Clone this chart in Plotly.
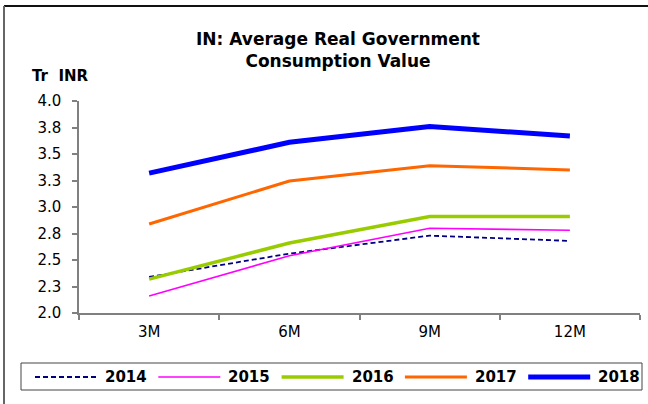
import plotly.graph_objects as go

# ---- data -------------------------------------------------------------
periods = ["3M", "6M", "9M", "12M"]
years = ["2014", "2015", "2016", "2017", "2018"]

v2014 = [2.34, 2.56, 2.73, 2.68]
v2015 = [2.16, 2.54, 2.80, 2.78]
v2016 = [2.32, 2.66, 2.91, 2.91]
v2017 = [2.84, 3.245, 3.39, 3.35]
v2018 = [3.32, 3.61, 3.76, 3.67]

y_tick_values = [2.0, 2.25, 2.5, 2.75, 3.0, 3.25, 3.5, 3.75, 4.0]
y_tick_labels = ["2.0", "2.3", "2.5", "2.8", "3.0", "3.3", "3.5", "3.8", "4.0"]

series = [v2014, v2015, v2016, v2017, v2018]

# ---- styling ----------------------------------------------------------
colors = ["#000080", "#FF00FF", "#99CC00", "#FF6600", "#0000FF"]
widths = [1.8, 1.6, 3.5, 3.0, 5.0]
dashes = ["5px,3px", "solid", "solid", "solid", "solid"]

FONT = "DejaVu Sans"
W, H = 648, 404
L, R, T, B = 79, 8, 101, 91
plot_w = W - L - R
plot_h = H - T - B


def px_x(px):
    """Convert a page pixel x position into paper coordinates."""
    return (px - L) / plot_w


def px_y(py):
    """Convert a page pixel y position into paper coordinates."""
    return (H - B - py) / plot_h


fig = go.Figure()
for name, vals, c, w, d in zip(years, series, colors, widths, dashes):
    fig.add_trace(go.Scatter(
        x=periods, y=vals, name=name, mode="lines",
        line=dict(color=c, width=w, dash=d),
        showlegend=False,
    ))

shapes = []
annotations = []

# outer frame (top and left edges)
shapes.append(dict(type="line", xref="paper", yref="paper",
                   x0=px_x(4), x1=px_x(648), y0=px_y(6), y1=px_y(6),
                   line=dict(color="#111111", width=2)))
shapes.append(dict(type="line", xref="paper", yref="paper",
                   x0=px_x(4), x1=px_x(4), y0=px_y(6), y1=px_y(404),
                   line=dict(color="#666666", width=2)))

# legend box
shapes.append(dict(type="rect", xref="paper", yref="paper",
                   x0=px_x(21), x1=px_x(642), y0=px_y(363), y1=px_y(390),
                   line=dict(color="#444444", width=1), fillcolor="white"))

leg_y = 377
step = 123.3
for i, (name, c, w, d) in enumerate(zip(years, colors, widths, dashes)):
    x0 = 35 + step * i
    shapes.append(dict(type="line", xref="paper", yref="paper",
                       x0=px_x(x0), x1=px_x(x0 + 62), y0=px_y(leg_y), y1=px_y(leg_y),
                       line=dict(color=c, width=w, dash=d)))
    annotations.append(dict(xref="paper", yref="paper", x=px_x(x0 + 68), y=px_y(leg_y),
                            xanchor="left", yanchor="middle", showarrow=False,
                            text=name,
                            font=dict(family=FONT, size=15, color="black", weight="bold")))

# unit label
annotations.append(dict(xref="paper", yref="paper", x=px_x(30), y=px_y(76),
                        xanchor="left", yanchor="middle", showarrow=False,
                        text="Tr\u00a0 INR",
                        font=dict(family=FONT, size=15, color="black", weight="bold")))

fig.update_layout(
    width=W, height=H,
    margin=dict(l=L, r=R, t=T, b=B),
    paper_bgcolor="white", plot_bgcolor="white",
    title=dict(text="IN: Average Real Government<br>Consumption Value",
               x=338 / W, xanchor="center", xref="container",
               y=1 - 45 / H, yanchor="top", yref="container",
               font=dict(family=FONT, size=17, color="black", weight="bold")),
    font=dict(family=FONT, size=15, color="black"),
    shapes=shapes,
    annotations=annotations,
    showlegend=False,
)

fig.update_xaxes(
    type="category", range=[-0.5, 3.5], showgrid=False, zeroline=False,
    showline=True, linecolor="#808080", linewidth=1.5,
    ticks="outside", tickson="boundaries", ticklen=5, tickcolor="#808080",
    tickwidth=1.5, tickfont=dict(family=FONT, size=15, color="black"),
    ticklabelstandoff=4,
)
fig.update_yaxes(
    range=[2.0, 4.0], showgrid=False, zeroline=False,
    showline=True, linecolor="#808080", linewidth=1.5,
    ticks="outside", ticklen=5, tickcolor="#808080", tickwidth=1.5,
    tickvals=y_tick_values, ticktext=y_tick_labels,
    tickfont=dict(family=FONT, size=15, color="black"),
    ticklabelstandoff=8,
)

fig.write_html("out.html", config={"displayModeBar": False})
